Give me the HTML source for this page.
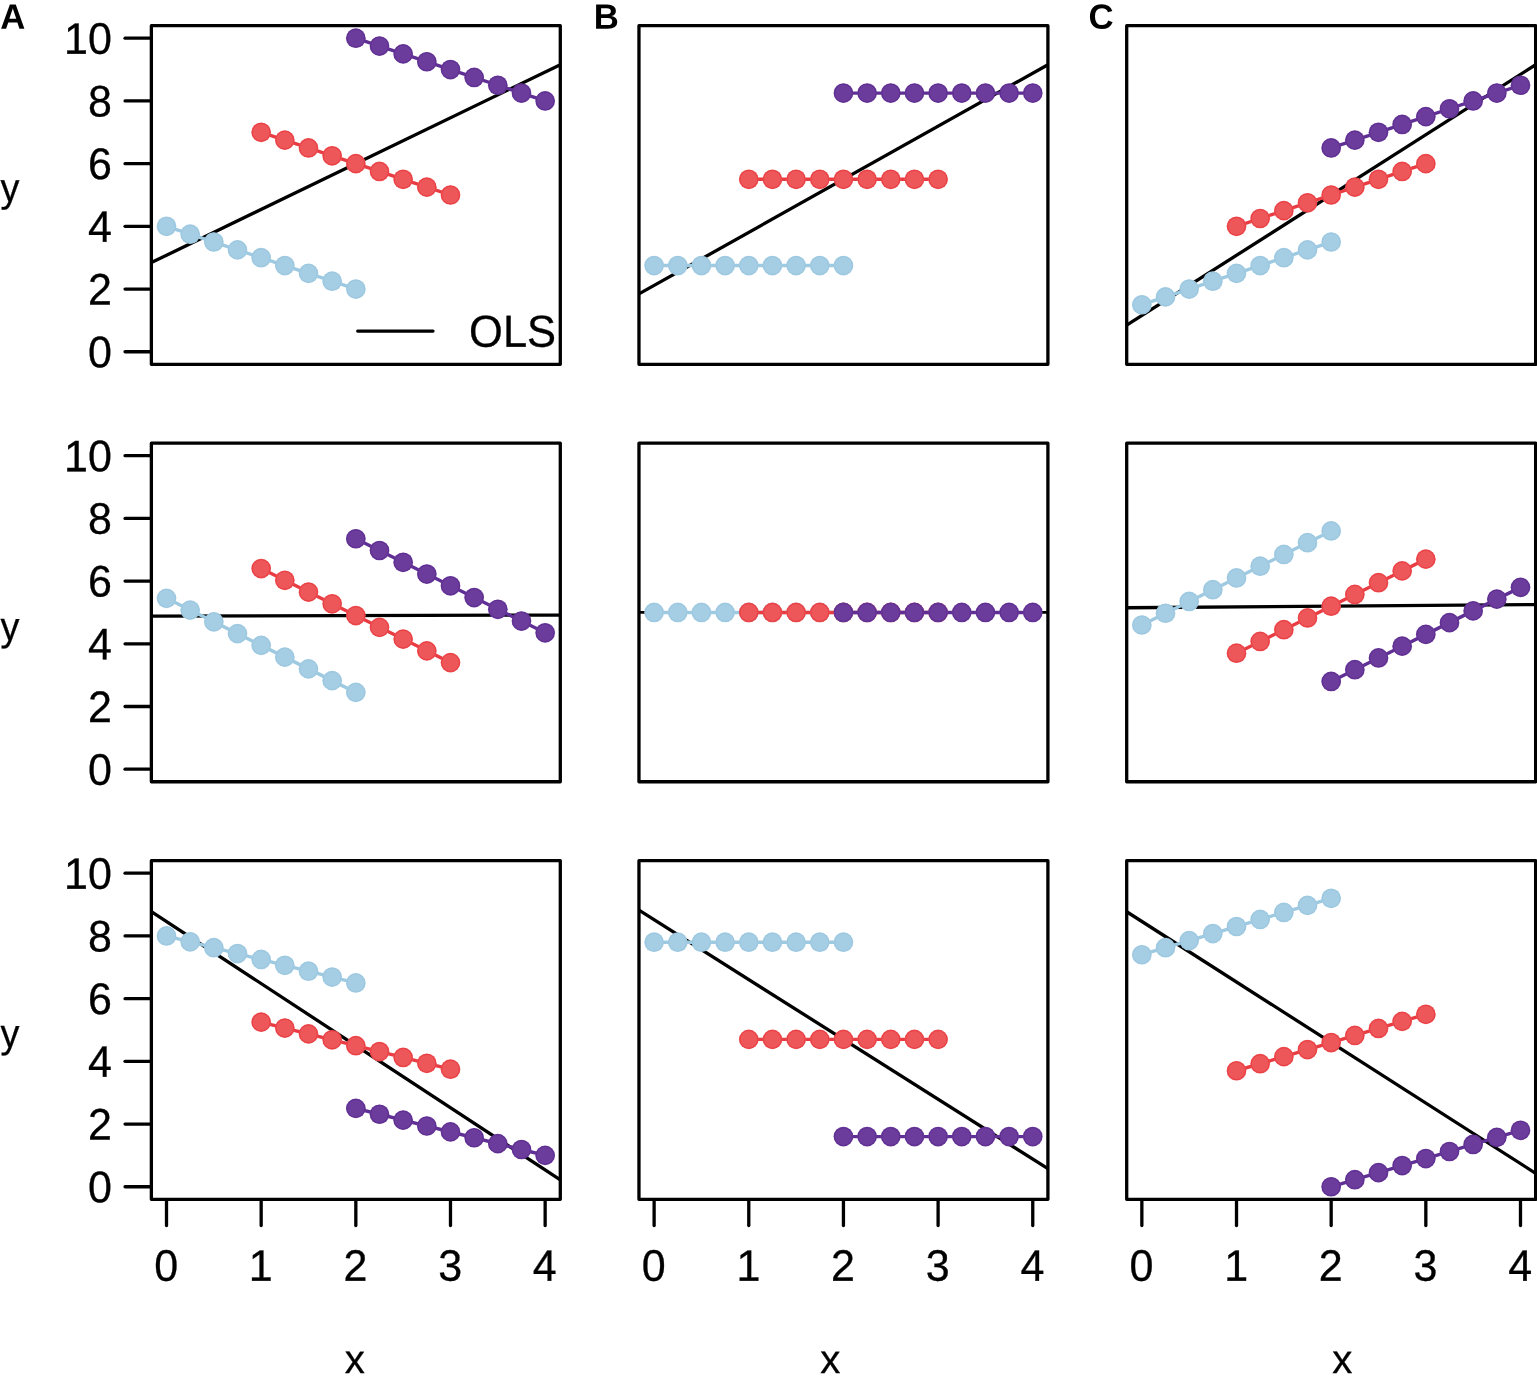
<!DOCTYPE html>
<html lang="en"><head><meta charset="utf-8"><title>Figure</title>
<style>html,body{margin:0;padding:0;background:#fff}svg{display:block}</style></head>
<body>
<svg width="1537" height="1382" viewBox="0 0 1537 1382" font-family="'Liberation Sans', sans-serif" font-size="43" fill="#000" text-rendering="geometricPrecision">
<rect width="1537" height="1382" fill="#fff"/>
<g>
<line x1="151.36" y1="262.61" x2="560.3" y2="64.65" stroke="#000" stroke-width="3.3"/>
<polyline fill="none" stroke="#9ecae1" stroke-width="3.4" points="166.51,226.34 190.17,234.18 213.84,242.02 237.5,249.86 261.17,257.69 284.83,265.53 308.5,273.37 332.16,281.21 355.83,289.05"/>
<g fill="#a5cde3"><circle cx="166.51" cy="226.34" r="9.85"/><circle cx="190.17" cy="234.18" r="9.85"/><circle cx="213.84" cy="242.02" r="9.85"/><circle cx="237.5" cy="249.86" r="9.85"/><circle cx="261.17" cy="257.69" r="9.85"/><circle cx="284.83" cy="265.53" r="9.85"/><circle cx="308.5" cy="273.37" r="9.85"/><circle cx="332.16" cy="281.21" r="9.85"/><circle cx="355.83" cy="289.05" r="9.85"/></g>
<g fill="none" stroke="#98c5de" stroke-width="0.8"><circle cx="166.51" cy="226.34" r="8.9"/><circle cx="190.17" cy="234.18" r="8.9"/><circle cx="213.84" cy="242.02" r="8.9"/><circle cx="237.5" cy="249.86" r="8.9"/><circle cx="261.17" cy="257.69" r="8.9"/><circle cx="284.83" cy="265.53" r="8.9"/><circle cx="308.5" cy="273.37" r="8.9"/><circle cx="332.16" cy="281.21" r="8.9"/><circle cx="355.83" cy="289.05" r="8.9"/></g>
<polyline fill="none" stroke="#e83c42" stroke-width="3.4" points="261.17,132.28 284.83,140.11 308.5,147.95 332.16,155.79 355.83,163.63 379.5,171.47 403.16,179.31 426.83,187.15 450.49,194.99"/>
<g fill="#ed575a"><circle cx="261.17" cy="132.28" r="9.85"/><circle cx="284.83" cy="140.11" r="9.85"/><circle cx="308.5" cy="147.95" r="9.85"/><circle cx="332.16" cy="155.79" r="9.85"/><circle cx="355.83" cy="163.63" r="9.85"/><circle cx="379.5" cy="171.47" r="9.85"/><circle cx="403.16" cy="179.31" r="9.85"/><circle cx="426.83" cy="187.15" r="9.85"/><circle cx="450.49" cy="194.99" r="9.85"/></g>
<g fill="none" stroke="#e8363b" stroke-width="0.8"><circle cx="261.17" cy="132.28" r="8.9"/><circle cx="284.83" cy="140.11" r="8.9"/><circle cx="308.5" cy="147.95" r="8.9"/><circle cx="332.16" cy="155.79" r="8.9"/><circle cx="355.83" cy="163.63" r="8.9"/><circle cx="379.5" cy="171.47" r="8.9"/><circle cx="403.16" cy="179.31" r="8.9"/><circle cx="426.83" cy="187.15" r="8.9"/><circle cx="450.49" cy="194.99" r="8.9"/></g>
<polyline fill="none" stroke="#602f95" stroke-width="3.4" points="355.83,38.21 379.5,46.05 403.16,53.89 426.83,61.73 450.49,69.57 474.16,77.41 497.82,85.24 521.49,93.08 545.15,100.92"/>
<g fill="#6b3c9b"><circle cx="355.83" cy="38.21" r="9.85"/><circle cx="379.5" cy="46.05" r="9.85"/><circle cx="403.16" cy="53.89" r="9.85"/><circle cx="426.83" cy="61.73" r="9.85"/><circle cx="450.49" cy="69.57" r="9.85"/><circle cx="474.16" cy="77.41" r="9.85"/><circle cx="497.82" cy="85.24" r="9.85"/><circle cx="521.49" cy="93.08" r="9.85"/><circle cx="545.15" cy="100.92" r="9.85"/></g>
<g fill="none" stroke="#5a2a8e" stroke-width="0.8"><circle cx="355.83" cy="38.21" r="8.9"/><circle cx="379.5" cy="46.05" r="8.9"/><circle cx="403.16" cy="53.89" r="8.9"/><circle cx="426.83" cy="61.73" r="8.9"/><circle cx="450.49" cy="69.57" r="8.9"/><circle cx="474.16" cy="77.41" r="8.9"/><circle cx="497.82" cy="85.24" r="8.9"/><circle cx="521.49" cy="93.08" r="8.9"/><circle cx="545.15" cy="100.92" r="8.9"/></g>
<rect x="151.36" y="25.67" width="408.94" height="338.63" fill="none" stroke="#000" stroke-width="3.3" stroke-linejoin="round"/>
<line x1="150.36" y1="351.76" x2="125.06" y2="351.76" stroke="#000" stroke-width="3.3" stroke-linecap="round"/>
<text transform="translate(111.9 367.26) rotate(0.05) scale(1 1.025)" text-anchor="end" stroke="#000" stroke-width="0.3">0</text>
<line x1="150.36" y1="289.05" x2="125.06" y2="289.05" stroke="#000" stroke-width="3.3" stroke-linecap="round"/>
<text transform="translate(111.9 304.55) rotate(0.05) scale(1 1.025)" text-anchor="end" stroke="#000" stroke-width="0.3">2</text>
<line x1="150.36" y1="226.34" x2="125.06" y2="226.34" stroke="#000" stroke-width="3.3" stroke-linecap="round"/>
<text transform="translate(111.9 241.84) rotate(0.05) scale(1 1.025)" text-anchor="end" stroke="#000" stroke-width="0.3">4</text>
<line x1="150.36" y1="163.63" x2="125.06" y2="163.63" stroke="#000" stroke-width="3.3" stroke-linecap="round"/>
<text transform="translate(111.9 179.13) rotate(0.05) scale(1 1.025)" text-anchor="end" stroke="#000" stroke-width="0.3">6</text>
<line x1="150.36" y1="100.92" x2="125.06" y2="100.92" stroke="#000" stroke-width="3.3" stroke-linecap="round"/>
<text transform="translate(111.9 116.42) rotate(0.05) scale(1 1.025)" text-anchor="end" stroke="#000" stroke-width="0.3">8</text>
<line x1="150.36" y1="38.21" x2="125.06" y2="38.21" stroke="#000" stroke-width="3.3" stroke-linecap="round"/>
<text transform="translate(111.9 53.71) rotate(0.05) scale(1 1.025)" text-anchor="end" stroke="#000" stroke-width="0.3">10</text>
<text transform="translate(0.45 201.4) rotate(0.05) scale(0.94 1)" font-size="40.2" stroke="#000" stroke-width="0.3">y</text>
</g>
<g>
<line x1="638.97" y1="293.92" x2="1047.91" y2="64.69" stroke="#000" stroke-width="3.3"/>
<polyline fill="none" stroke="#9ecae1" stroke-width="3.4" points="654.12,265.53 677.78,265.53 701.45,265.53 725.11,265.53 748.78,265.53 772.44,265.53 796.11,265.53 819.77,265.53 843.44,265.53"/>
<g fill="#a5cde3"><circle cx="654.12" cy="265.53" r="9.85"/><circle cx="677.78" cy="265.53" r="9.85"/><circle cx="701.45" cy="265.53" r="9.85"/><circle cx="725.11" cy="265.53" r="9.85"/><circle cx="748.78" cy="265.53" r="9.85"/><circle cx="772.44" cy="265.53" r="9.85"/><circle cx="796.11" cy="265.53" r="9.85"/><circle cx="819.77" cy="265.53" r="9.85"/><circle cx="843.44" cy="265.53" r="9.85"/></g>
<g fill="none" stroke="#98c5de" stroke-width="0.8"><circle cx="654.12" cy="265.53" r="8.9"/><circle cx="677.78" cy="265.53" r="8.9"/><circle cx="701.45" cy="265.53" r="8.9"/><circle cx="725.11" cy="265.53" r="8.9"/><circle cx="748.78" cy="265.53" r="8.9"/><circle cx="772.44" cy="265.53" r="8.9"/><circle cx="796.11" cy="265.53" r="8.9"/><circle cx="819.77" cy="265.53" r="8.9"/><circle cx="843.44" cy="265.53" r="8.9"/></g>
<polyline fill="none" stroke="#e83c42" stroke-width="3.4" points="748.78,179.31 772.44,179.31 796.11,179.31 819.77,179.31 843.44,179.31 867.11,179.31 890.77,179.31 914.44,179.31 938.1,179.31"/>
<g fill="#ed575a"><circle cx="748.78" cy="179.31" r="9.85"/><circle cx="772.44" cy="179.31" r="9.85"/><circle cx="796.11" cy="179.31" r="9.85"/><circle cx="819.77" cy="179.31" r="9.85"/><circle cx="843.44" cy="179.31" r="9.85"/><circle cx="867.11" cy="179.31" r="9.85"/><circle cx="890.77" cy="179.31" r="9.85"/><circle cx="914.44" cy="179.31" r="9.85"/><circle cx="938.1" cy="179.31" r="9.85"/></g>
<g fill="none" stroke="#e8363b" stroke-width="0.8"><circle cx="748.78" cy="179.31" r="8.9"/><circle cx="772.44" cy="179.31" r="8.9"/><circle cx="796.11" cy="179.31" r="8.9"/><circle cx="819.77" cy="179.31" r="8.9"/><circle cx="843.44" cy="179.31" r="8.9"/><circle cx="867.11" cy="179.31" r="8.9"/><circle cx="890.77" cy="179.31" r="8.9"/><circle cx="914.44" cy="179.31" r="8.9"/><circle cx="938.1" cy="179.31" r="8.9"/></g>
<polyline fill="none" stroke="#602f95" stroke-width="3.4" points="843.44,93.08 867.11,93.08 890.77,93.08 914.44,93.08 938.1,93.08 961.77,93.08 985.43,93.08 1009.1,93.08 1032.76,93.08"/>
<g fill="#6b3c9b"><circle cx="843.44" cy="93.08" r="9.85"/><circle cx="867.11" cy="93.08" r="9.85"/><circle cx="890.77" cy="93.08" r="9.85"/><circle cx="914.44" cy="93.08" r="9.85"/><circle cx="938.1" cy="93.08" r="9.85"/><circle cx="961.77" cy="93.08" r="9.85"/><circle cx="985.43" cy="93.08" r="9.85"/><circle cx="1009.1" cy="93.08" r="9.85"/><circle cx="1032.76" cy="93.08" r="9.85"/></g>
<g fill="none" stroke="#5a2a8e" stroke-width="0.8"><circle cx="843.44" cy="93.08" r="8.9"/><circle cx="867.11" cy="93.08" r="8.9"/><circle cx="890.77" cy="93.08" r="8.9"/><circle cx="914.44" cy="93.08" r="8.9"/><circle cx="938.1" cy="93.08" r="8.9"/><circle cx="961.77" cy="93.08" r="8.9"/><circle cx="985.43" cy="93.08" r="8.9"/><circle cx="1009.1" cy="93.08" r="8.9"/><circle cx="1032.76" cy="93.08" r="8.9"/></g>
<rect x="638.97" y="25.67" width="408.94" height="338.63" fill="none" stroke="#000" stroke-width="3.3" stroke-linejoin="round"/>
</g>
<g>
<line x1="1126.7" y1="325.23" x2="1535.64" y2="64.74" stroke="#000" stroke-width="3.3"/>
<polyline fill="none" stroke="#9ecae1" stroke-width="3.4" points="1141.85,304.73 1165.51,296.89 1189.18,289.05 1212.84,281.21 1236.51,273.37 1260.17,265.53 1283.84,257.69 1307.5,249.86 1331.17,242.02"/>
<g fill="#a5cde3"><circle cx="1141.85" cy="304.73" r="9.85"/><circle cx="1165.51" cy="296.89" r="9.85"/><circle cx="1189.18" cy="289.05" r="9.85"/><circle cx="1212.84" cy="281.21" r="9.85"/><circle cx="1236.51" cy="273.37" r="9.85"/><circle cx="1260.17" cy="265.53" r="9.85"/><circle cx="1283.84" cy="257.69" r="9.85"/><circle cx="1307.5" cy="249.86" r="9.85"/><circle cx="1331.17" cy="242.02" r="9.85"/></g>
<g fill="none" stroke="#98c5de" stroke-width="0.8"><circle cx="1141.85" cy="304.73" r="8.9"/><circle cx="1165.51" cy="296.89" r="8.9"/><circle cx="1189.18" cy="289.05" r="8.9"/><circle cx="1212.84" cy="281.21" r="8.9"/><circle cx="1236.51" cy="273.37" r="8.9"/><circle cx="1260.17" cy="265.53" r="8.9"/><circle cx="1283.84" cy="257.69" r="8.9"/><circle cx="1307.5" cy="249.86" r="8.9"/><circle cx="1331.17" cy="242.02" r="8.9"/></g>
<polyline fill="none" stroke="#e83c42" stroke-width="3.4" points="1236.51,226.34 1260.17,218.5 1283.84,210.66 1307.5,202.82 1331.17,194.99 1354.84,187.15 1378.5,179.31 1402.17,171.47 1425.83,163.63"/>
<g fill="#ed575a"><circle cx="1236.51" cy="226.34" r="9.85"/><circle cx="1260.17" cy="218.5" r="9.85"/><circle cx="1283.84" cy="210.66" r="9.85"/><circle cx="1307.5" cy="202.82" r="9.85"/><circle cx="1331.17" cy="194.99" r="9.85"/><circle cx="1354.84" cy="187.15" r="9.85"/><circle cx="1378.5" cy="179.31" r="9.85"/><circle cx="1402.17" cy="171.47" r="9.85"/><circle cx="1425.83" cy="163.63" r="9.85"/></g>
<g fill="none" stroke="#e8363b" stroke-width="0.8"><circle cx="1236.51" cy="226.34" r="8.9"/><circle cx="1260.17" cy="218.5" r="8.9"/><circle cx="1283.84" cy="210.66" r="8.9"/><circle cx="1307.5" cy="202.82" r="8.9"/><circle cx="1331.17" cy="194.99" r="8.9"/><circle cx="1354.84" cy="187.15" r="8.9"/><circle cx="1378.5" cy="179.31" r="8.9"/><circle cx="1402.17" cy="171.47" r="8.9"/><circle cx="1425.83" cy="163.63" r="8.9"/></g>
<polyline fill="none" stroke="#602f95" stroke-width="3.4" points="1331.17,147.95 1354.84,140.11 1378.5,132.28 1402.17,124.44 1425.83,116.6 1449.5,108.76 1473.16,100.92 1496.83,93.08 1520.49,85.24"/>
<g fill="#6b3c9b"><circle cx="1331.17" cy="147.95" r="9.85"/><circle cx="1354.84" cy="140.11" r="9.85"/><circle cx="1378.5" cy="132.28" r="9.85"/><circle cx="1402.17" cy="124.44" r="9.85"/><circle cx="1425.83" cy="116.6" r="9.85"/><circle cx="1449.5" cy="108.76" r="9.85"/><circle cx="1473.16" cy="100.92" r="9.85"/><circle cx="1496.83" cy="93.08" r="9.85"/><circle cx="1520.49" cy="85.24" r="9.85"/></g>
<g fill="none" stroke="#5a2a8e" stroke-width="0.8"><circle cx="1331.17" cy="147.95" r="8.9"/><circle cx="1354.84" cy="140.11" r="8.9"/><circle cx="1378.5" cy="132.28" r="8.9"/><circle cx="1402.17" cy="124.44" r="8.9"/><circle cx="1425.83" cy="116.6" r="8.9"/><circle cx="1449.5" cy="108.76" r="8.9"/><circle cx="1473.16" cy="100.92" r="8.9"/><circle cx="1496.83" cy="93.08" r="8.9"/><circle cx="1520.49" cy="85.24" r="8.9"/></g>
<rect x="1126.7" y="25.67" width="408.94" height="338.63" fill="none" stroke="#000" stroke-width="3.3" stroke-linejoin="round"/>
</g>
<g>
<line x1="151.36" y1="616.1" x2="560.3" y2="615.06" stroke="#000" stroke-width="3.3"/>
<polyline fill="none" stroke="#9ecae1" stroke-width="3.4" points="166.51,598.34 190.17,610.09 213.84,621.85 237.5,633.61 261.17,645.37 284.83,657.13 308.5,668.88 332.16,680.64 355.83,692.4"/>
<g fill="#a5cde3"><circle cx="166.51" cy="598.34" r="9.85"/><circle cx="190.17" cy="610.09" r="9.85"/><circle cx="213.84" cy="621.85" r="9.85"/><circle cx="237.5" cy="633.61" r="9.85"/><circle cx="261.17" cy="645.37" r="9.85"/><circle cx="284.83" cy="657.13" r="9.85"/><circle cx="308.5" cy="668.88" r="9.85"/><circle cx="332.16" cy="680.64" r="9.85"/><circle cx="355.83" cy="692.4" r="9.85"/></g>
<g fill="none" stroke="#98c5de" stroke-width="0.8"><circle cx="166.51" cy="598.34" r="8.9"/><circle cx="190.17" cy="610.09" r="8.9"/><circle cx="213.84" cy="621.85" r="8.9"/><circle cx="237.5" cy="633.61" r="8.9"/><circle cx="261.17" cy="645.37" r="8.9"/><circle cx="284.83" cy="657.13" r="8.9"/><circle cx="308.5" cy="668.88" r="8.9"/><circle cx="332.16" cy="680.64" r="8.9"/><circle cx="355.83" cy="692.4" r="8.9"/></g>
<polyline fill="none" stroke="#e83c42" stroke-width="3.4" points="261.17,568.55 284.83,580.31 308.5,592.06 332.16,603.82 355.83,615.58 379.5,627.34 403.16,639.1 426.83,650.85 450.49,662.61"/>
<g fill="#ed575a"><circle cx="261.17" cy="568.55" r="9.85"/><circle cx="284.83" cy="580.31" r="9.85"/><circle cx="308.5" cy="592.06" r="9.85"/><circle cx="332.16" cy="603.82" r="9.85"/><circle cx="355.83" cy="615.58" r="9.85"/><circle cx="379.5" cy="627.34" r="9.85"/><circle cx="403.16" cy="639.1" r="9.85"/><circle cx="426.83" cy="650.85" r="9.85"/><circle cx="450.49" cy="662.61" r="9.85"/></g>
<g fill="none" stroke="#e8363b" stroke-width="0.8"><circle cx="261.17" cy="568.55" r="8.9"/><circle cx="284.83" cy="580.31" r="8.9"/><circle cx="308.5" cy="592.06" r="8.9"/><circle cx="332.16" cy="603.82" r="8.9"/><circle cx="355.83" cy="615.58" r="8.9"/><circle cx="379.5" cy="627.34" r="8.9"/><circle cx="403.16" cy="639.1" r="8.9"/><circle cx="426.83" cy="650.85" r="8.9"/><circle cx="450.49" cy="662.61" r="8.9"/></g>
<polyline fill="none" stroke="#602f95" stroke-width="3.4" points="355.83,538.76 379.5,550.52 403.16,562.28 426.83,574.04 450.49,585.79 474.16,597.55 497.82,609.31 521.49,621.07 545.15,632.83"/>
<g fill="#6b3c9b"><circle cx="355.83" cy="538.76" r="9.85"/><circle cx="379.5" cy="550.52" r="9.85"/><circle cx="403.16" cy="562.28" r="9.85"/><circle cx="426.83" cy="574.04" r="9.85"/><circle cx="450.49" cy="585.79" r="9.85"/><circle cx="474.16" cy="597.55" r="9.85"/><circle cx="497.82" cy="609.31" r="9.85"/><circle cx="521.49" cy="621.07" r="9.85"/><circle cx="545.15" cy="632.83" r="9.85"/></g>
<g fill="none" stroke="#5a2a8e" stroke-width="0.8"><circle cx="355.83" cy="538.76" r="8.9"/><circle cx="379.5" cy="550.52" r="8.9"/><circle cx="403.16" cy="562.28" r="8.9"/><circle cx="426.83" cy="574.04" r="8.9"/><circle cx="450.49" cy="585.79" r="8.9"/><circle cx="474.16" cy="597.55" r="8.9"/><circle cx="497.82" cy="609.31" r="8.9"/><circle cx="521.49" cy="621.07" r="8.9"/><circle cx="545.15" cy="632.83" r="8.9"/></g>
<rect x="151.36" y="443.13" width="408.94" height="338.63" fill="none" stroke="#000" stroke-width="3.3" stroke-linejoin="round"/>
<line x1="150.36" y1="769.22" x2="125.06" y2="769.22" stroke="#000" stroke-width="3.3" stroke-linecap="round"/>
<text transform="translate(111.9 784.72) rotate(0.05) scale(1 1.025)" text-anchor="end" stroke="#000" stroke-width="0.3">0</text>
<line x1="150.36" y1="706.51" x2="125.06" y2="706.51" stroke="#000" stroke-width="3.3" stroke-linecap="round"/>
<text transform="translate(111.9 722.01) rotate(0.05) scale(1 1.025)" text-anchor="end" stroke="#000" stroke-width="0.3">2</text>
<line x1="150.36" y1="643.8" x2="125.06" y2="643.8" stroke="#000" stroke-width="3.3" stroke-linecap="round"/>
<text transform="translate(111.9 659.3) rotate(0.05) scale(1 1.025)" text-anchor="end" stroke="#000" stroke-width="0.3">4</text>
<line x1="150.36" y1="581.09" x2="125.06" y2="581.09" stroke="#000" stroke-width="3.3" stroke-linecap="round"/>
<text transform="translate(111.9 596.59) rotate(0.05) scale(1 1.025)" text-anchor="end" stroke="#000" stroke-width="0.3">6</text>
<line x1="150.36" y1="518.38" x2="125.06" y2="518.38" stroke="#000" stroke-width="3.3" stroke-linecap="round"/>
<text transform="translate(111.9 533.88) rotate(0.05) scale(1 1.025)" text-anchor="end" stroke="#000" stroke-width="0.3">8</text>
<line x1="150.36" y1="455.67" x2="125.06" y2="455.67" stroke="#000" stroke-width="3.3" stroke-linecap="round"/>
<text transform="translate(111.9 471.17) rotate(0.05) scale(1 1.025)" text-anchor="end" stroke="#000" stroke-width="0.3">10</text>
<text transform="translate(0.45 640.3) rotate(0.05) scale(0.94 1)" font-size="40.2" stroke="#000" stroke-width="0.3">y</text>
</g>
<g>
<line x1="638.97" y1="612.45" x2="1047.91" y2="612.44" stroke="#000" stroke-width="2.7"/>
<polyline fill="none" stroke="#9ecae1" stroke-width="3.4" points="654.12,612.44 677.78,612.44 701.45,612.44 725.11,612.44 748.78,612.44 772.44,612.44 796.11,612.44 819.77,612.44 843.44,612.44"/>
<g fill="#a5cde3"><circle cx="654.12" cy="612.44" r="9.85"/><circle cx="677.78" cy="612.44" r="9.85"/><circle cx="701.45" cy="612.44" r="9.85"/><circle cx="725.11" cy="612.44" r="9.85"/><circle cx="748.78" cy="612.44" r="9.85"/><circle cx="772.44" cy="612.44" r="9.85"/><circle cx="796.11" cy="612.44" r="9.85"/><circle cx="819.77" cy="612.44" r="9.85"/><circle cx="843.44" cy="612.44" r="9.85"/></g>
<g fill="none" stroke="#98c5de" stroke-width="0.8"><circle cx="654.12" cy="612.44" r="8.9"/><circle cx="677.78" cy="612.44" r="8.9"/><circle cx="701.45" cy="612.44" r="8.9"/><circle cx="725.11" cy="612.44" r="8.9"/><circle cx="748.78" cy="612.44" r="8.9"/><circle cx="772.44" cy="612.44" r="8.9"/><circle cx="796.11" cy="612.44" r="8.9"/><circle cx="819.77" cy="612.44" r="8.9"/><circle cx="843.44" cy="612.44" r="8.9"/></g>
<polyline fill="none" stroke="#e83c42" stroke-width="3.4" points="748.78,612.44 772.44,612.44 796.11,612.44 819.77,612.44 843.44,612.44 867.11,612.44 890.77,612.44 914.44,612.44 938.1,612.44"/>
<g fill="#ed575a"><circle cx="748.78" cy="612.44" r="9.85"/><circle cx="772.44" cy="612.44" r="9.85"/><circle cx="796.11" cy="612.44" r="9.85"/><circle cx="819.77" cy="612.44" r="9.85"/><circle cx="843.44" cy="612.44" r="9.85"/><circle cx="867.11" cy="612.44" r="9.85"/><circle cx="890.77" cy="612.44" r="9.85"/><circle cx="914.44" cy="612.44" r="9.85"/><circle cx="938.1" cy="612.44" r="9.85"/></g>
<g fill="none" stroke="#e8363b" stroke-width="0.8"><circle cx="748.78" cy="612.44" r="8.9"/><circle cx="772.44" cy="612.44" r="8.9"/><circle cx="796.11" cy="612.44" r="8.9"/><circle cx="819.77" cy="612.44" r="8.9"/><circle cx="843.44" cy="612.44" r="8.9"/><circle cx="867.11" cy="612.44" r="8.9"/><circle cx="890.77" cy="612.44" r="8.9"/><circle cx="914.44" cy="612.44" r="8.9"/><circle cx="938.1" cy="612.44" r="8.9"/></g>
<polyline fill="none" stroke="#602f95" stroke-width="3.4" points="843.44,612.44 867.11,612.44 890.77,612.44 914.44,612.44 938.1,612.44 961.77,612.44 985.43,612.44 1009.1,612.44 1032.76,612.44"/>
<g fill="#6b3c9b"><circle cx="843.44" cy="612.44" r="9.85"/><circle cx="867.11" cy="612.44" r="9.85"/><circle cx="890.77" cy="612.44" r="9.85"/><circle cx="914.44" cy="612.44" r="9.85"/><circle cx="938.1" cy="612.44" r="9.85"/><circle cx="961.77" cy="612.44" r="9.85"/><circle cx="985.43" cy="612.44" r="9.85"/><circle cx="1009.1" cy="612.44" r="9.85"/><circle cx="1032.76" cy="612.44" r="9.85"/></g>
<g fill="none" stroke="#5a2a8e" stroke-width="0.8"><circle cx="843.44" cy="612.44" r="8.9"/><circle cx="867.11" cy="612.44" r="8.9"/><circle cx="890.77" cy="612.44" r="8.9"/><circle cx="914.44" cy="612.44" r="8.9"/><circle cx="938.1" cy="612.44" r="8.9"/><circle cx="961.77" cy="612.44" r="8.9"/><circle cx="985.43" cy="612.44" r="8.9"/><circle cx="1009.1" cy="612.44" r="8.9"/><circle cx="1032.76" cy="612.44" r="8.9"/></g>
<rect x="638.97" y="443.13" width="408.94" height="338.63" fill="none" stroke="#000" stroke-width="3.3" stroke-linejoin="round"/>
</g>
<g>
<line x1="1126.7" y1="607.74" x2="1535.64" y2="604.61" stroke="#000" stroke-width="3.3"/>
<polyline fill="none" stroke="#9ecae1" stroke-width="3.4" points="1141.85,624.99 1165.51,613.23 1189.18,601.47 1212.84,589.71 1236.51,577.95 1260.17,566.2 1283.84,554.44 1307.5,542.68 1331.17,530.92"/>
<g fill="#a5cde3"><circle cx="1141.85" cy="624.99" r="9.85"/><circle cx="1165.51" cy="613.23" r="9.85"/><circle cx="1189.18" cy="601.47" r="9.85"/><circle cx="1212.84" cy="589.71" r="9.85"/><circle cx="1236.51" cy="577.95" r="9.85"/><circle cx="1260.17" cy="566.2" r="9.85"/><circle cx="1283.84" cy="554.44" r="9.85"/><circle cx="1307.5" cy="542.68" r="9.85"/><circle cx="1331.17" cy="530.92" r="9.85"/></g>
<g fill="none" stroke="#98c5de" stroke-width="0.8"><circle cx="1141.85" cy="624.99" r="8.9"/><circle cx="1165.51" cy="613.23" r="8.9"/><circle cx="1189.18" cy="601.47" r="8.9"/><circle cx="1212.84" cy="589.71" r="8.9"/><circle cx="1236.51" cy="577.95" r="8.9"/><circle cx="1260.17" cy="566.2" r="8.9"/><circle cx="1283.84" cy="554.44" r="8.9"/><circle cx="1307.5" cy="542.68" r="8.9"/><circle cx="1331.17" cy="530.92" r="8.9"/></g>
<polyline fill="none" stroke="#e83c42" stroke-width="3.4" points="1236.51,653.21 1260.17,641.45 1283.84,629.69 1307.5,617.93 1331.17,606.17 1354.84,594.42 1378.5,582.66 1402.17,570.9 1425.83,559.14"/>
<g fill="#ed575a"><circle cx="1236.51" cy="653.21" r="9.85"/><circle cx="1260.17" cy="641.45" r="9.85"/><circle cx="1283.84" cy="629.69" r="9.85"/><circle cx="1307.5" cy="617.93" r="9.85"/><circle cx="1331.17" cy="606.17" r="9.85"/><circle cx="1354.84" cy="594.42" r="9.85"/><circle cx="1378.5" cy="582.66" r="9.85"/><circle cx="1402.17" cy="570.9" r="9.85"/><circle cx="1425.83" cy="559.14" r="9.85"/></g>
<g fill="none" stroke="#e8363b" stroke-width="0.8"><circle cx="1236.51" cy="653.21" r="8.9"/><circle cx="1260.17" cy="641.45" r="8.9"/><circle cx="1283.84" cy="629.69" r="8.9"/><circle cx="1307.5" cy="617.93" r="8.9"/><circle cx="1331.17" cy="606.17" r="8.9"/><circle cx="1354.84" cy="594.42" r="8.9"/><circle cx="1378.5" cy="582.66" r="8.9"/><circle cx="1402.17" cy="570.9" r="8.9"/><circle cx="1425.83" cy="559.14" r="8.9"/></g>
<polyline fill="none" stroke="#602f95" stroke-width="3.4" points="1331.17,681.43 1354.84,669.67 1378.5,657.91 1402.17,646.15 1425.83,634.39 1449.5,622.64 1473.16,610.88 1496.83,599.12 1520.49,587.36"/>
<g fill="#6b3c9b"><circle cx="1331.17" cy="681.43" r="9.85"/><circle cx="1354.84" cy="669.67" r="9.85"/><circle cx="1378.5" cy="657.91" r="9.85"/><circle cx="1402.17" cy="646.15" r="9.85"/><circle cx="1425.83" cy="634.39" r="9.85"/><circle cx="1449.5" cy="622.64" r="9.85"/><circle cx="1473.16" cy="610.88" r="9.85"/><circle cx="1496.83" cy="599.12" r="9.85"/><circle cx="1520.49" cy="587.36" r="9.85"/></g>
<g fill="none" stroke="#5a2a8e" stroke-width="0.8"><circle cx="1331.17" cy="681.43" r="8.9"/><circle cx="1354.84" cy="669.67" r="8.9"/><circle cx="1378.5" cy="657.91" r="8.9"/><circle cx="1402.17" cy="646.15" r="8.9"/><circle cx="1425.83" cy="634.39" r="8.9"/><circle cx="1449.5" cy="622.64" r="8.9"/><circle cx="1473.16" cy="610.88" r="8.9"/><circle cx="1496.83" cy="599.12" r="8.9"/><circle cx="1520.49" cy="587.36" r="8.9"/></g>
<rect x="1126.7" y="443.13" width="408.94" height="338.63" fill="none" stroke="#000" stroke-width="3.3" stroke-linejoin="round"/>
</g>
<g>
<line x1="151.36" y1="911.51" x2="560.3" y2="1179.81" stroke="#000" stroke-width="3.3"/>
<polyline fill="none" stroke="#9ecae1" stroke-width="3.4" points="166.51,935.92 190.17,941.8 213.84,947.68 237.5,953.56 261.17,959.44 284.83,965.32 308.5,971.2 332.16,977.07 355.83,982.95"/>
<g fill="#a5cde3"><circle cx="166.51" cy="935.92" r="9.85"/><circle cx="190.17" cy="941.8" r="9.85"/><circle cx="213.84" cy="947.68" r="9.85"/><circle cx="237.5" cy="953.56" r="9.85"/><circle cx="261.17" cy="959.44" r="9.85"/><circle cx="284.83" cy="965.32" r="9.85"/><circle cx="308.5" cy="971.2" r="9.85"/><circle cx="332.16" cy="977.07" r="9.85"/><circle cx="355.83" cy="982.95" r="9.85"/></g>
<g fill="none" stroke="#98c5de" stroke-width="0.8"><circle cx="166.51" cy="935.92" r="8.9"/><circle cx="190.17" cy="941.8" r="8.9"/><circle cx="213.84" cy="947.68" r="8.9"/><circle cx="237.5" cy="953.56" r="8.9"/><circle cx="261.17" cy="959.44" r="8.9"/><circle cx="284.83" cy="965.32" r="8.9"/><circle cx="308.5" cy="971.2" r="8.9"/><circle cx="332.16" cy="977.07" r="8.9"/><circle cx="355.83" cy="982.95" r="8.9"/></g>
<polyline fill="none" stroke="#e83c42" stroke-width="3.4" points="261.17,1022.15 284.83,1028.03 308.5,1033.9 332.16,1039.78 355.83,1045.66 379.5,1051.54 403.16,1057.42 426.83,1063.3 450.49,1069.18"/>
<g fill="#ed575a"><circle cx="261.17" cy="1022.15" r="9.85"/><circle cx="284.83" cy="1028.03" r="9.85"/><circle cx="308.5" cy="1033.9" r="9.85"/><circle cx="332.16" cy="1039.78" r="9.85"/><circle cx="355.83" cy="1045.66" r="9.85"/><circle cx="379.5" cy="1051.54" r="9.85"/><circle cx="403.16" cy="1057.42" r="9.85"/><circle cx="426.83" cy="1063.3" r="9.85"/><circle cx="450.49" cy="1069.18" r="9.85"/></g>
<g fill="none" stroke="#e8363b" stroke-width="0.8"><circle cx="261.17" cy="1022.15" r="8.9"/><circle cx="284.83" cy="1028.03" r="8.9"/><circle cx="308.5" cy="1033.9" r="8.9"/><circle cx="332.16" cy="1039.78" r="8.9"/><circle cx="355.83" cy="1045.66" r="8.9"/><circle cx="379.5" cy="1051.54" r="8.9"/><circle cx="403.16" cy="1057.42" r="8.9"/><circle cx="426.83" cy="1063.3" r="8.9"/><circle cx="450.49" cy="1069.18" r="8.9"/></g>
<polyline fill="none" stroke="#602f95" stroke-width="3.4" points="355.83,1108.37 379.5,1114.25 403.16,1120.13 426.83,1126.01 450.49,1131.89 474.16,1137.77 497.82,1143.65 521.49,1149.52 545.15,1155.4"/>
<g fill="#6b3c9b"><circle cx="355.83" cy="1108.37" r="9.85"/><circle cx="379.5" cy="1114.25" r="9.85"/><circle cx="403.16" cy="1120.13" r="9.85"/><circle cx="426.83" cy="1126.01" r="9.85"/><circle cx="450.49" cy="1131.89" r="9.85"/><circle cx="474.16" cy="1137.77" r="9.85"/><circle cx="497.82" cy="1143.65" r="9.85"/><circle cx="521.49" cy="1149.52" r="9.85"/><circle cx="545.15" cy="1155.4" r="9.85"/></g>
<g fill="none" stroke="#5a2a8e" stroke-width="0.8"><circle cx="355.83" cy="1108.37" r="8.9"/><circle cx="379.5" cy="1114.25" r="8.9"/><circle cx="403.16" cy="1120.13" r="8.9"/><circle cx="426.83" cy="1126.01" r="8.9"/><circle cx="450.49" cy="1131.89" r="8.9"/><circle cx="474.16" cy="1137.77" r="8.9"/><circle cx="497.82" cy="1143.65" r="8.9"/><circle cx="521.49" cy="1149.52" r="8.9"/><circle cx="545.15" cy="1155.4" r="8.9"/></g>
<rect x="151.36" y="860.67" width="408.94" height="338.63" fill="none" stroke="#000" stroke-width="3.3" stroke-linejoin="round"/>
<line x1="150.36" y1="1186.76" x2="125.06" y2="1186.76" stroke="#000" stroke-width="3.3" stroke-linecap="round"/>
<text transform="translate(111.9 1202.26) rotate(0.05) scale(1 1.025)" text-anchor="end" stroke="#000" stroke-width="0.3">0</text>
<line x1="150.36" y1="1124.05" x2="125.06" y2="1124.05" stroke="#000" stroke-width="3.3" stroke-linecap="round"/>
<text transform="translate(111.9 1139.55) rotate(0.05) scale(1 1.025)" text-anchor="end" stroke="#000" stroke-width="0.3">2</text>
<line x1="150.36" y1="1061.34" x2="125.06" y2="1061.34" stroke="#000" stroke-width="3.3" stroke-linecap="round"/>
<text transform="translate(111.9 1076.84) rotate(0.05) scale(1 1.025)" text-anchor="end" stroke="#000" stroke-width="0.3">4</text>
<line x1="150.36" y1="998.63" x2="125.06" y2="998.63" stroke="#000" stroke-width="3.3" stroke-linecap="round"/>
<text transform="translate(111.9 1014.13) rotate(0.05) scale(1 1.025)" text-anchor="end" stroke="#000" stroke-width="0.3">6</text>
<line x1="150.36" y1="935.92" x2="125.06" y2="935.92" stroke="#000" stroke-width="3.3" stroke-linecap="round"/>
<text transform="translate(111.9 951.42) rotate(0.05) scale(1 1.025)" text-anchor="end" stroke="#000" stroke-width="0.3">8</text>
<line x1="150.36" y1="873.21" x2="125.06" y2="873.21" stroke="#000" stroke-width="3.3" stroke-linecap="round"/>
<text transform="translate(111.9 888.71) rotate(0.05) scale(1 1.025)" text-anchor="end" stroke="#000" stroke-width="0.3">10</text>
<text transform="translate(0.45 1047.2) rotate(0.05) scale(0.94 1)" font-size="40.2" stroke="#000" stroke-width="0.3">y</text>
<line x1="166.51" y1="1200.3" x2="166.51" y2="1225.6" stroke="#000" stroke-width="3.3" stroke-linecap="round"/>
<text transform="translate(166.11 1280.7) rotate(0.05) scale(1 1.025)" text-anchor="middle" stroke="#000" stroke-width="0.3">0</text>
<line x1="261.17" y1="1200.3" x2="261.17" y2="1225.6" stroke="#000" stroke-width="3.3" stroke-linecap="round"/>
<text transform="translate(260.77 1280.7) rotate(0.05) scale(1 1.025)" text-anchor="middle" stroke="#000" stroke-width="0.3">1</text>
<line x1="355.83" y1="1200.3" x2="355.83" y2="1225.6" stroke="#000" stroke-width="3.3" stroke-linecap="round"/>
<text transform="translate(355.43 1280.7) rotate(0.05) scale(1 1.025)" text-anchor="middle" stroke="#000" stroke-width="0.3">2</text>
<line x1="450.49" y1="1200.3" x2="450.49" y2="1225.6" stroke="#000" stroke-width="3.3" stroke-linecap="round"/>
<text transform="translate(450.09 1280.7) rotate(0.05) scale(1 1.025)" text-anchor="middle" stroke="#000" stroke-width="0.3">3</text>
<line x1="545.15" y1="1200.3" x2="545.15" y2="1225.6" stroke="#000" stroke-width="3.3" stroke-linecap="round"/>
<text transform="translate(544.75 1280.7) rotate(0.05) scale(1 1.025)" text-anchor="middle" stroke="#000" stroke-width="0.3">4</text>
<text transform="translate(354.8 1373) rotate(0.05)" font-size="40.2" text-anchor="middle" stroke="#000" stroke-width="0.3">x</text>
</g>
<g>
<line x1="638.97" y1="910.19" x2="1047.91" y2="1168.59" stroke="#000" stroke-width="3.3"/>
<polyline fill="none" stroke="#9ecae1" stroke-width="3.4" points="654.12,942.19 677.78,942.19 701.45,942.19 725.11,942.19 748.78,942.19 772.44,942.19 796.11,942.19 819.77,942.19 843.44,942.19"/>
<g fill="#a5cde3"><circle cx="654.12" cy="942.19" r="9.85"/><circle cx="677.78" cy="942.19" r="9.85"/><circle cx="701.45" cy="942.19" r="9.85"/><circle cx="725.11" cy="942.19" r="9.85"/><circle cx="748.78" cy="942.19" r="9.85"/><circle cx="772.44" cy="942.19" r="9.85"/><circle cx="796.11" cy="942.19" r="9.85"/><circle cx="819.77" cy="942.19" r="9.85"/><circle cx="843.44" cy="942.19" r="9.85"/></g>
<g fill="none" stroke="#98c5de" stroke-width="0.8"><circle cx="654.12" cy="942.19" r="8.9"/><circle cx="677.78" cy="942.19" r="8.9"/><circle cx="701.45" cy="942.19" r="8.9"/><circle cx="725.11" cy="942.19" r="8.9"/><circle cx="748.78" cy="942.19" r="8.9"/><circle cx="772.44" cy="942.19" r="8.9"/><circle cx="796.11" cy="942.19" r="8.9"/><circle cx="819.77" cy="942.19" r="8.9"/><circle cx="843.44" cy="942.19" r="8.9"/></g>
<polyline fill="none" stroke="#e83c42" stroke-width="3.4" points="748.78,1039.39 772.44,1039.39 796.11,1039.39 819.77,1039.39 843.44,1039.39 867.11,1039.39 890.77,1039.39 914.44,1039.39 938.1,1039.39"/>
<g fill="#ed575a"><circle cx="748.78" cy="1039.39" r="9.85"/><circle cx="772.44" cy="1039.39" r="9.85"/><circle cx="796.11" cy="1039.39" r="9.85"/><circle cx="819.77" cy="1039.39" r="9.85"/><circle cx="843.44" cy="1039.39" r="9.85"/><circle cx="867.11" cy="1039.39" r="9.85"/><circle cx="890.77" cy="1039.39" r="9.85"/><circle cx="914.44" cy="1039.39" r="9.85"/><circle cx="938.1" cy="1039.39" r="9.85"/></g>
<g fill="none" stroke="#e8363b" stroke-width="0.8"><circle cx="748.78" cy="1039.39" r="8.9"/><circle cx="772.44" cy="1039.39" r="8.9"/><circle cx="796.11" cy="1039.39" r="8.9"/><circle cx="819.77" cy="1039.39" r="8.9"/><circle cx="843.44" cy="1039.39" r="8.9"/><circle cx="867.11" cy="1039.39" r="8.9"/><circle cx="890.77" cy="1039.39" r="8.9"/><circle cx="914.44" cy="1039.39" r="8.9"/><circle cx="938.1" cy="1039.39" r="8.9"/></g>
<polyline fill="none" stroke="#602f95" stroke-width="3.4" points="843.44,1136.59 867.11,1136.59 890.77,1136.59 914.44,1136.59 938.1,1136.59 961.77,1136.59 985.43,1136.59 1009.1,1136.59 1032.76,1136.59"/>
<g fill="#6b3c9b"><circle cx="843.44" cy="1136.59" r="9.85"/><circle cx="867.11" cy="1136.59" r="9.85"/><circle cx="890.77" cy="1136.59" r="9.85"/><circle cx="914.44" cy="1136.59" r="9.85"/><circle cx="938.1" cy="1136.59" r="9.85"/><circle cx="961.77" cy="1136.59" r="9.85"/><circle cx="985.43" cy="1136.59" r="9.85"/><circle cx="1009.1" cy="1136.59" r="9.85"/><circle cx="1032.76" cy="1136.59" r="9.85"/></g>
<g fill="none" stroke="#5a2a8e" stroke-width="0.8"><circle cx="843.44" cy="1136.59" r="8.9"/><circle cx="867.11" cy="1136.59" r="8.9"/><circle cx="890.77" cy="1136.59" r="8.9"/><circle cx="914.44" cy="1136.59" r="8.9"/><circle cx="938.1" cy="1136.59" r="8.9"/><circle cx="961.77" cy="1136.59" r="8.9"/><circle cx="985.43" cy="1136.59" r="8.9"/><circle cx="1009.1" cy="1136.59" r="8.9"/><circle cx="1032.76" cy="1136.59" r="8.9"/></g>
<rect x="638.97" y="860.67" width="408.94" height="338.63" fill="none" stroke="#000" stroke-width="3.3" stroke-linejoin="round"/>
<line x1="654.12" y1="1200.3" x2="654.12" y2="1225.6" stroke="#000" stroke-width="3.3" stroke-linecap="round"/>
<text transform="translate(653.72 1280.7) rotate(0.05) scale(1 1.025)" text-anchor="middle" stroke="#000" stroke-width="0.3">0</text>
<line x1="748.78" y1="1200.3" x2="748.78" y2="1225.6" stroke="#000" stroke-width="3.3" stroke-linecap="round"/>
<text transform="translate(748.38 1280.7) rotate(0.05) scale(1 1.025)" text-anchor="middle" stroke="#000" stroke-width="0.3">1</text>
<line x1="843.44" y1="1200.3" x2="843.44" y2="1225.6" stroke="#000" stroke-width="3.3" stroke-linecap="round"/>
<text transform="translate(843.04 1280.7) rotate(0.05) scale(1 1.025)" text-anchor="middle" stroke="#000" stroke-width="0.3">2</text>
<line x1="938.1" y1="1200.3" x2="938.1" y2="1225.6" stroke="#000" stroke-width="3.3" stroke-linecap="round"/>
<text transform="translate(937.7 1280.7) rotate(0.05) scale(1 1.025)" text-anchor="middle" stroke="#000" stroke-width="0.3">3</text>
<line x1="1032.76" y1="1200.3" x2="1032.76" y2="1225.6" stroke="#000" stroke-width="3.3" stroke-linecap="round"/>
<text transform="translate(1032.36 1280.7) rotate(0.05) scale(1 1.025)" text-anchor="middle" stroke="#000" stroke-width="0.3">4</text>
<text transform="translate(830.2 1373) rotate(0.05)" font-size="40.2" text-anchor="middle" stroke="#000" stroke-width="0.3">x</text>
</g>
<g>
<line x1="1126.7" y1="911.76" x2="1535.64" y2="1173.29" stroke="#000" stroke-width="3.3"/>
<polyline fill="none" stroke="#9ecae1" stroke-width="3.4" points="1141.85,954.73 1165.51,947.68 1189.18,940.62 1212.84,933.57 1236.51,926.51 1260.17,919.46 1283.84,912.41 1307.5,905.35 1331.17,898.3"/>
<g fill="#a5cde3"><circle cx="1141.85" cy="954.73" r="9.85"/><circle cx="1165.51" cy="947.68" r="9.85"/><circle cx="1189.18" cy="940.62" r="9.85"/><circle cx="1212.84" cy="933.57" r="9.85"/><circle cx="1236.51" cy="926.51" r="9.85"/><circle cx="1260.17" cy="919.46" r="9.85"/><circle cx="1283.84" cy="912.41" r="9.85"/><circle cx="1307.5" cy="905.35" r="9.85"/><circle cx="1331.17" cy="898.3" r="9.85"/></g>
<g fill="none" stroke="#98c5de" stroke-width="0.8"><circle cx="1141.85" cy="954.73" r="8.9"/><circle cx="1165.51" cy="947.68" r="8.9"/><circle cx="1189.18" cy="940.62" r="8.9"/><circle cx="1212.84" cy="933.57" r="8.9"/><circle cx="1236.51" cy="926.51" r="8.9"/><circle cx="1260.17" cy="919.46" r="8.9"/><circle cx="1283.84" cy="912.41" r="8.9"/><circle cx="1307.5" cy="905.35" r="8.9"/><circle cx="1331.17" cy="898.3" r="8.9"/></g>
<polyline fill="none" stroke="#e83c42" stroke-width="3.4" points="1236.51,1070.75 1260.17,1063.69 1283.84,1056.64 1307.5,1049.58 1331.17,1042.53 1354.84,1035.47 1378.5,1028.42 1402.17,1021.36 1425.83,1014.31"/>
<g fill="#ed575a"><circle cx="1236.51" cy="1070.75" r="9.85"/><circle cx="1260.17" cy="1063.69" r="9.85"/><circle cx="1283.84" cy="1056.64" r="9.85"/><circle cx="1307.5" cy="1049.58" r="9.85"/><circle cx="1331.17" cy="1042.53" r="9.85"/><circle cx="1354.84" cy="1035.47" r="9.85"/><circle cx="1378.5" cy="1028.42" r="9.85"/><circle cx="1402.17" cy="1021.36" r="9.85"/><circle cx="1425.83" cy="1014.31" r="9.85"/></g>
<g fill="none" stroke="#e8363b" stroke-width="0.8"><circle cx="1236.51" cy="1070.75" r="8.9"/><circle cx="1260.17" cy="1063.69" r="8.9"/><circle cx="1283.84" cy="1056.64" r="8.9"/><circle cx="1307.5" cy="1049.58" r="8.9"/><circle cx="1331.17" cy="1042.53" r="8.9"/><circle cx="1354.84" cy="1035.47" r="8.9"/><circle cx="1378.5" cy="1028.42" r="8.9"/><circle cx="1402.17" cy="1021.36" r="8.9"/><circle cx="1425.83" cy="1014.31" r="8.9"/></g>
<polyline fill="none" stroke="#602f95" stroke-width="3.4" points="1331.17,1186.76 1354.84,1179.7 1378.5,1172.65 1402.17,1165.59 1425.83,1158.54 1449.5,1151.48 1473.16,1144.43 1496.83,1137.37 1520.49,1130.32"/>
<g fill="#6b3c9b"><circle cx="1331.17" cy="1186.76" r="9.85"/><circle cx="1354.84" cy="1179.7" r="9.85"/><circle cx="1378.5" cy="1172.65" r="9.85"/><circle cx="1402.17" cy="1165.59" r="9.85"/><circle cx="1425.83" cy="1158.54" r="9.85"/><circle cx="1449.5" cy="1151.48" r="9.85"/><circle cx="1473.16" cy="1144.43" r="9.85"/><circle cx="1496.83" cy="1137.37" r="9.85"/><circle cx="1520.49" cy="1130.32" r="9.85"/></g>
<g fill="none" stroke="#5a2a8e" stroke-width="0.8"><circle cx="1331.17" cy="1186.76" r="8.9"/><circle cx="1354.84" cy="1179.7" r="8.9"/><circle cx="1378.5" cy="1172.65" r="8.9"/><circle cx="1402.17" cy="1165.59" r="8.9"/><circle cx="1425.83" cy="1158.54" r="8.9"/><circle cx="1449.5" cy="1151.48" r="8.9"/><circle cx="1473.16" cy="1144.43" r="8.9"/><circle cx="1496.83" cy="1137.37" r="8.9"/><circle cx="1520.49" cy="1130.32" r="8.9"/></g>
<rect x="1126.7" y="860.67" width="408.94" height="338.63" fill="none" stroke="#000" stroke-width="3.3" stroke-linejoin="round"/>
<line x1="1141.85" y1="1200.3" x2="1141.85" y2="1225.6" stroke="#000" stroke-width="3.3" stroke-linecap="round"/>
<text transform="translate(1141.45 1280.7) rotate(0.05) scale(1 1.025)" text-anchor="middle" stroke="#000" stroke-width="0.3">0</text>
<line x1="1236.51" y1="1200.3" x2="1236.51" y2="1225.6" stroke="#000" stroke-width="3.3" stroke-linecap="round"/>
<text transform="translate(1236.11 1280.7) rotate(0.05) scale(1 1.025)" text-anchor="middle" stroke="#000" stroke-width="0.3">1</text>
<line x1="1331.17" y1="1200.3" x2="1331.17" y2="1225.6" stroke="#000" stroke-width="3.3" stroke-linecap="round"/>
<text transform="translate(1330.77 1280.7) rotate(0.05) scale(1 1.025)" text-anchor="middle" stroke="#000" stroke-width="0.3">2</text>
<line x1="1425.83" y1="1200.3" x2="1425.83" y2="1225.6" stroke="#000" stroke-width="3.3" stroke-linecap="round"/>
<text transform="translate(1425.43 1280.7) rotate(0.05) scale(1 1.025)" text-anchor="middle" stroke="#000" stroke-width="0.3">3</text>
<line x1="1520.49" y1="1200.3" x2="1520.49" y2="1225.6" stroke="#000" stroke-width="3.3" stroke-linecap="round"/>
<text transform="translate(1520.09 1280.7) rotate(0.05) scale(1 1.025)" text-anchor="middle" stroke="#000" stroke-width="0.3">4</text>
<text transform="translate(1342.2 1373) rotate(0.05)" font-size="40.2" text-anchor="middle" stroke="#000" stroke-width="0.3">x</text>
</g>
<line x1="357.7" y1="331.1" x2="433" y2="331.1" stroke="#000" stroke-width="3.3" stroke-linecap="round"/>
<text transform="translate(469.1 346.7) rotate(0.05) scale(1.011 1.045)" stroke="#000" stroke-width="0.3">OLS</text>
<text transform="translate(0.3 28.85) rotate(0.05) scale(1.02 1.03)" font-size="34.1" font-weight="bold">A</text>
<text transform="translate(593.8 28.85) rotate(0.05) scale(1.02 1.03)" font-size="34.1" font-weight="bold">B</text>
<text transform="translate(1088.6 28.85) rotate(0.05) scale(1.02 1.03)" font-size="34.1" font-weight="bold">C</text>
</svg>
</body></html>
